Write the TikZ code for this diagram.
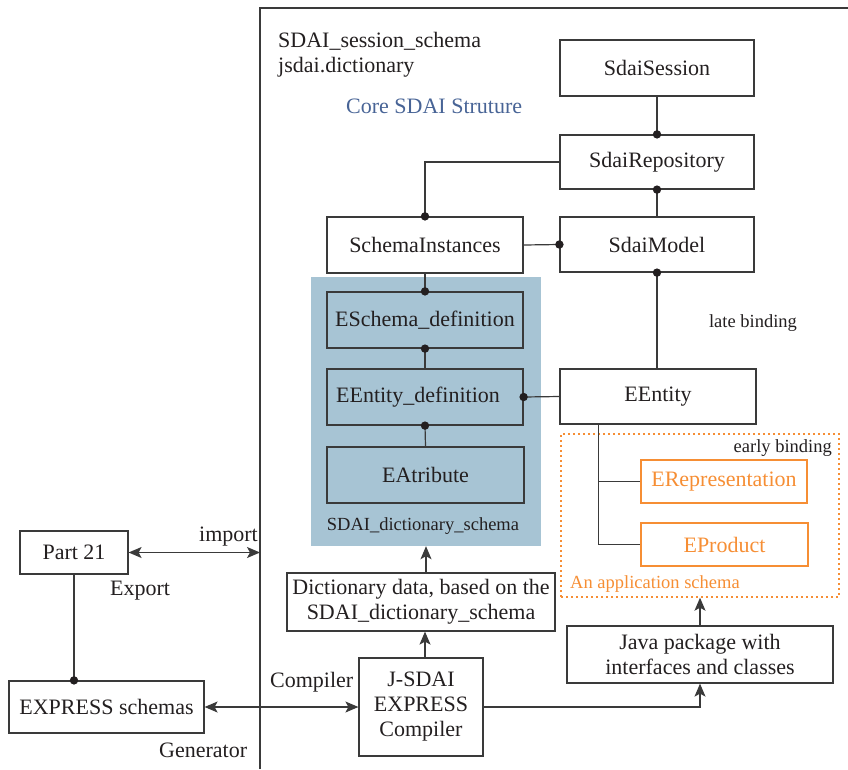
\documentclass[tikz,border=0pt]{standalone}
\usepackage{fontspec}
\setmainfont{Liberation Serif}
\usetikzlibrary{arrows.meta,calc}

\definecolor{ink}{HTML}{231F20}
\definecolor{wire}{HTML}{3A3A3A}
\definecolor{dictblue}{RGB}{167,196,212}
\definecolor{coreblue}{RGB}{72,100,150}
\definecolor{apporange}{RGB}{246,142,52}

\newcommand\diaLarge{\fontsize{22}{25}\selectfont}
\newcommand\diaSmall{\fontsize{18.5}{21}\selectfont}
\newcommand\jdot[1]{\fill[ink] (#1) circle (4.2pt);}

\tikzset{
  box/.style={draw=wire, line width=1.2pt, inner sep=0pt, text=ink,
              font=\diaLarge, align=center},
  appbox/.style={box, draw=apporange, text=apporange},
  conn/.style={draw=wire, line width=1.2pt},
  tip/.tip={Stealth[length=13pt,width=11pt,inset=3pt]},
  arr/.style={conn, -tip},
  biarr/.style={conn, tip-tip},
  lbl/.style={text=ink, font=\diaLarge, inner sep=0pt},
  slbl/.style={text=ink, font=\diaSmall, inner sep=0pt},
}

\begin{document}
\begin{tikzpicture}[x=1pt,y=-1pt]
\useasboundingbox (0,0) rectangle (848,769);

% frame of the SDAI environment
\coordinate (frBottom) at (260,769);
\coordinate (frCorner) at (260,8);
\coordinate (frRight) at (848,8);
\draw[conn] (frBottom) -- (frCorner) -- (frRight);

% dictionary schema background
\node[fill=dictblue, inner sep=0pt, minimum width=230pt, minimum height=269pt]
  (bg) at (426,411.5) {};

% application schema region
\node[draw=apporange, line width=1.4pt, dash pattern=on 2pt off 3pt,
      inner sep=0pt, minimum width=278pt, minimum height=163pt]
  (app) at (700,515.5) {};

% header texts
\node[lbl, anchor=base west] (hdr1) at (278,47) {SDAI\_session\_schema};
\node[lbl, anchor=base west] (hdr2) at (278,72) {jsdai.dictionary};
\node[lbl, text=coreblue, anchor=base west] (core) at (346,113) {Core SDAI Struture};

% session structure
\node[box, minimum width=194pt, minimum height=56pt] (ses) at (657,68) {SdaiSession};
\node[box, minimum width=194pt, minimum height=54pt] (rep) at (657,162) {SdaiRepository};
\node[box, minimum width=194pt, minimum height=55pt] (mod) at (657,244.5) {SdaiModel};
\node[box, minimum width=196pt, minimum height=56pt] (si) at (425,245) {SchemaInstances};

% dictionary entities
\node[box, minimum width=196pt, minimum height=56pt] (esd) at (425,320) {ESchema\_definition};
\node[box, minimum width=196pt, minimum height=56pt] (eed) at (425,397) {EEntity\_definition\hspace*{14pt}};
\node[box, minimum width=197pt, minimum height=56pt] (eat) at (425.5,475) {EAtribute};
\node[slbl, anchor=base] (dsl) at (423,530) {SDAI\_dictionary\_schema};

% entity and application entities
\node[box, minimum width=196pt, minimum height=55pt] (een) at (658,396.5) {EEntity};
\node[appbox, minimum width=166pt, minimum height=43pt] (erep) at (724,481.5) {ERepresentation};
\node[appbox, minimum width=167pt, minimum height=43pt] (eprod) at (724.5,544.5) {EProduct};

\node[slbl, anchor=base] (late) at (753,327) {late binding};
\node[slbl, anchor=base east] (early) at (832,452) {early binding};
\node[slbl, text=apporange, anchor=base west] (appl) at (570,588) {An application schema};

% tools and data
\node[box, minimum width=268pt, minimum height=58pt] (dict) at (421,602)
  {Dictionary data, based on the\\SDAI\_dictionary\_schema};
\node[box, minimum width=124pt, minimum height=98pt] (jsdai) at (421,707)
  {J-SDAI\\EXPRESS\\Compiler};
\node[box, minimum width=266pt, minimum height=57pt] (java) at (700,654.5)
  {Java package with\\interfaces and classes};
\node[box, minimum width=108pt, minimum height=43pt] (p21) at (74,552.5) {Part 21};
\node[box, minimum width=195pt, minimum height=52pt] (exp) at (106.5,707) {EXPRESS schemas};

\node[lbl, anchor=base east] (imp) at (258,541) {import};
\node[lbl, anchor=base west] (expo) at (110,595) {Export};
\node[lbl, anchor=base west] (gen) at (159,757) {Generator};
\node[lbl, anchor=base west] (cmp) at (270,687) {Compiler};

% session connectors
\draw[conn] (ses.south) -- (rep.north);
\jdot{rep.north}
\draw[conn] (rep.south) -- (mod.north);
\jdot{rep.south}
\draw[conn] (si.north) |- (rep.west);
\jdot{si.north}
\draw[conn] (si.east) -- (mod.west);
\jdot{mod.west}
\draw[conn] (mod.south) -- (mod.south|-een.north);
\jdot{mod.south}

% dictionary connectors
\draw[conn] (si.south) -- (esd.north);
\jdot{esd.north}
\draw[conn] (esd.south) -- (eed.north);
\jdot{esd.south}
\draw[conn] (eed.south) -- (eat.north);
\jdot{eed.south}
\draw[conn] (eed.east) -- (een.west);
\jdot{eed.east}

% early binding tree
\coordinate (tree) at ($(een.south west)+(39,0)$);
\draw[conn] (tree) |- (eprod.west);
\draw[conn] (tree|-erep.west) -- (erep.west);

% data flow
\draw[arr] (dict.north-|bg.south) -- (bg.south);
\draw[arr] ($(jsdai.north)+(4,0)$) -- ($(dict.south)+(4,0)$);
\draw[arr] (jsdai.east) -| (java.south);
\draw[arr] (java.north) -- (java.north|-app.south);
\draw[biarr] (exp.east) -- (jsdai.west);
\coordinate (impEnd) at (frCorner|-p21.east);
\draw[biarr] (p21.east) -- (impEnd);
\draw[conn] (p21.south) -- (p21.south|-exp.north);
\jdot{p21.south|-exp.north}

\end{tikzpicture}
\end{document}
